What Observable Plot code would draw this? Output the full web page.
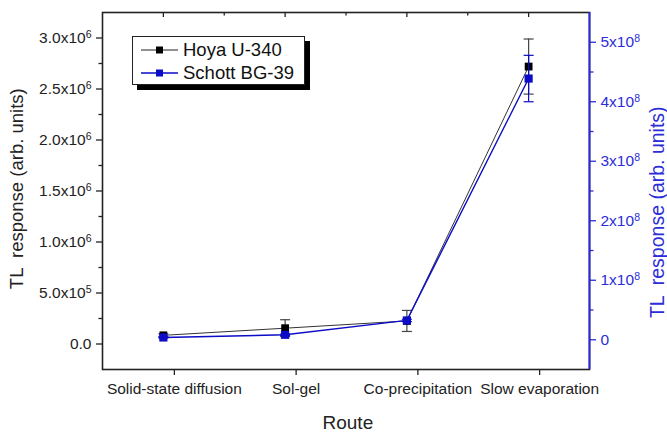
<!DOCTYPE html>
<html>
<head>
<meta charset="utf-8">
<script src="https://cdn.jsdelivr.net/npm/d3@7"></script>
<script src="https://cdn.jsdelivr.net/npm/@observablehq/plot@0.6"></script>
<style>
  body { margin: 0; background: #fff; }
  #wrap { position: relative; width: 667px; height: 434px; overflow: hidden; font-family: "Liberation Sans", Arial, sans-serif; }
  .legend { position: absolute; left: 132px; top: 36px; width: 173px; height: 49px; box-sizing: border-box;
            border: 1px solid #222; background: #fff; box-shadow: 5px 5px 0 #000; }
  .legend .row { position: absolute; left: 0; height: 20px; }
  .legend .row svg { position: absolute; left: 8px; top: 0; }
  .legend .row span { position: absolute; left: 50px; top: 0; line-height: 20px; font-size: 18.5px; color: #111; white-space: nowrap; }
  .title { position: absolute; white-space: pre; line-height: 1.05; transform-origin: center center; }
</style>
</head>
<body>
<div id="wrap"></div>
<script>
// ---- data ----
const routes = ["Solid-state diffusion", "Sol-gel", "Co-precipitation", "Slow evaporation"];
const hoya = [0.085e6, 0.155e6, 0.226e6, 2.72e6];       // left axis
const hoyaErr = [0.015e6, 0.083e6, 0.103e6, 0.27e6];
const schott = [0.038e8, 0.083e8, 0.325e8, 4.39e8];     // right axis
const schottErr = [0.008e8, 0.012e8, 0.02e8, 0.39e8];
const leftTicks = [0, 0.5e6, 1.0e6, 1.5e6, 2.0e6, 2.5e6, 3.0e6];
const leftMinor = [0.25e6, 0.75e6, 1.25e6, 1.75e6, 2.25e6, 2.75e6];
const rightTicks = [0, 1e8, 2e8, 3e8, 4e8, 5e8];
const rightMinor = [0.5e8, 1.5e8, 2.5e8, 3.5e8, 4.5e8];
const seriesNames = ["Hoya U-340", "Schott BG-39"];
const yTitle = "TL  response (arb. units)";
const xTitle = "Route";

const leftDomain = [-0.25e6, 3.25e6];
const rightDomain = [-0.5e8, 5.5e8];
const toLeft = v => leftDomain[0] + (v - rightDomain[0]) / (rightDomain[1] - rightDomain[0]) * (leftDomain[1] - leftDomain[0]);
const fromLeft = y => rightDomain[0] + (y - leftDomain[0]) / (leftDomain[1] - leftDomain[0]) * (rightDomain[1] - rightDomain[0]);

const blue = "#0b0bc8";
const axisBlue = "#2d2dd8";
const dark = "#222";

const rows = routes.map((r, i) => ({
  i, route: r,
  h: hoya[i], hLo: hoya[i] - hoyaErr[i], hHi: hoya[i] + hoyaErr[i],
  s: toLeft(schott[i]), sLo: toLeft(schott[i] - schottErr[i]), sHi: toLeft(schott[i] + schottErr[i])
}));
const xIdx = routes.map((_, i) => i);
const xMid = routes.slice(1).map((_, i) => i + 0.5);

function fmtLeft(v) {
  if (Math.abs(v) < 1e-9) return "0.0";
  const e = Math.floor(Math.log10(v) + 1e-9);
  return (v / Math.pow(10, e)).toFixed(1) + "x10^" + e;
}
function fmtRight(v) {
  const r = Math.round(v / 1e7) * 1e7;
  if (Math.abs(r) < 1) return "0";
  const e = Math.floor(Math.log10(r) + 1e-9);
  return Math.round(r / Math.pow(10, e)) + "x10^" + e;
}
const hbar = { draw(ctx, size) { const w = Math.sqrt(size / Math.PI); ctx.moveTo(-w, 0); ctx.lineTo(w, 0); } };

const plot = Plot.plot({
  width: 667, height: 434,
  marginLeft: 102, marginRight: 78, marginTop: 12, marginBottom: 65,
  style: { fontFamily: '"Liberation Sans", Arial, sans-serif', fontSize: "15px", color: dark, background: "white", overflow: "visible" },
  x: { type: "linear", domain: [-0.5, 3.5] },
  y: { domain: leftDomain },
  marks: [
    // axes
    Plot.axisY(leftTicks, { anchor: "left", tickSize: 6, tickPadding: 5, tickFormat: fmtLeft, label: null, fontSize: 15.5, strokeWidth: 1.3 }),
    Plot.axisY(leftMinor, { anchor: "left", tickSize: 3.5, tickFormat: () => "", label: null, strokeWidth: 1.3 }),
    Plot.axisY(rightTicks.map(toLeft), { anchor: "right", tickSize: 6, tickPadding: 5, tickFormat: d => fmtRight(fromLeft(d)), label: null, color: axisBlue, fontSize: 15.5, strokeWidth: 1.3 }),
    Plot.axisY(rightMinor.map(toLeft), { anchor: "right", tickSize: 3.5, tickFormat: () => "", label: null, color: axisBlue, strokeWidth: 1.3 }),
    Plot.axisX(xIdx, { anchor: "bottom", tickSize: 6, tickPadding: 7, tickFormat: i => routes[i], dx: 11, label: null, fontSize: 15.5, strokeWidth: 1.3 }),
    Plot.axisX(xIdx, { anchor: "top", tickSize: -4, tickFormat: () => "", label: null, strokeWidth: 1.3 }),
    Plot.axisX(xMid, { anchor: "top", tickSize: -2.5, tickFormat: () => "", label: null, strokeWidth: 1.3 }),
    Plot.frame({ stroke: dark, strokeWidth: 1.6 }),
    Plot.ruleX([3.5], { stroke: axisBlue, strokeWidth: 2 }),
    // Hoya error bars
    Plot.ruleX(rows, { x: "i", y1: "hLo", y2: "hHi", stroke: "#444", strokeWidth: 1.2 }),
    Plot.dot(rows, { x: "i", y: "hLo", symbol: hbar, r: 5, stroke: "#444", strokeWidth: 1.2 }),
    Plot.dot(rows, { x: "i", y: "hHi", symbol: hbar, r: 5, stroke: "#444", strokeWidth: 1.2 }),
    // Hoya line + markers
    Plot.line(rows, { x: "i", y: "h", stroke: "#333", strokeWidth: 1 }),
    Plot.dot(rows, { x: "i", y: "h", symbol: "square", r: 4.4, fill: "#000", stroke: "none" }),
    // Schott error bars
    Plot.ruleX(rows, { x: "i", y1: "sLo", y2: "sHi", stroke: blue, strokeWidth: 1.2 }),
    Plot.dot(rows, { x: "i", y: "sLo", symbol: hbar, r: 5, stroke: blue, strokeWidth: 1.2 }),
    Plot.dot(rows, { x: "i", y: "sHi", symbol: hbar, r: 5, stroke: blue, strokeWidth: 1.2 }),
    // Schott line + markers
    Plot.line(rows, { x: "i", y: "s", stroke: blue, strokeWidth: 1.4 }),
    Plot.dot(rows, { x: "i", y: "s", symbol: "square", r: 4.6, fill: blue, stroke: "none" })
  ]
});

// superscripts in tick labels
const NS = "http://www.w3.org/2000/svg";
plot.querySelectorAll("text").forEach(t => {
  const s = t.textContent;
  if (s.includes("^") && t.children.length === 0) {
    const [base, exp] = s.split("^");
    t.textContent = base;
    const ts = document.createElementNS(NS, "tspan");
    ts.setAttribute("dy", "-0.45em");
    ts.setAttribute("font-size", "0.68em");
    ts.textContent = exp;
    t.appendChild(ts);
  }
});

const wrap = document.getElementById("wrap");
wrap.appendChild(plot);

// axis titles (HTML text)
function addTitle(text, cx, cy, size, color, rot) {
  const d = document.createElement("div");
  d.className = "title";
  d.textContent = text;
  d.style.fontSize = size + "px";
  d.style.color = color;
  wrap.appendChild(d);
  const w = d.offsetWidth, h = d.offsetHeight;
  d.style.left = (cx - w / 2) + "px";
  d.style.top = (cy - h / 2) + "px";
  if (rot) d.style.transform = `rotate(${rot}deg)`;
}
addTitle(yTitle, 16, 188, 18.5, dark, -90);
addTitle(yTitle, 657, 212, 19.5, axisBlue, -90);
addTitle(xTitle, 348, 423, 19, dark, 0);

// legend
const legend = document.createElement("div");
legend.className = "legend";
const colors = ["#222", blue];
const markColors = ["#000", blue];
seriesNames.forEach((name, k) => {
  const row = document.createElement("div");
  row.className = "row";
  row.style.top = (k === 0 ? 3 : 26) + "px";
  row.style.width = "170px";
  row.innerHTML = `<svg width="40" height="20"><line x1="0" y1="10" x2="37" y2="10" stroke="${colors[k]}" stroke-width="${k ? 1.4 : 1}"/><rect x="15" y="6.5" width="7" height="7" fill="${markColors[k]}"/></svg><span>${name}</span>`;
  legend.appendChild(row);
});
wrap.appendChild(legend);
</script>
</body>
</html>
